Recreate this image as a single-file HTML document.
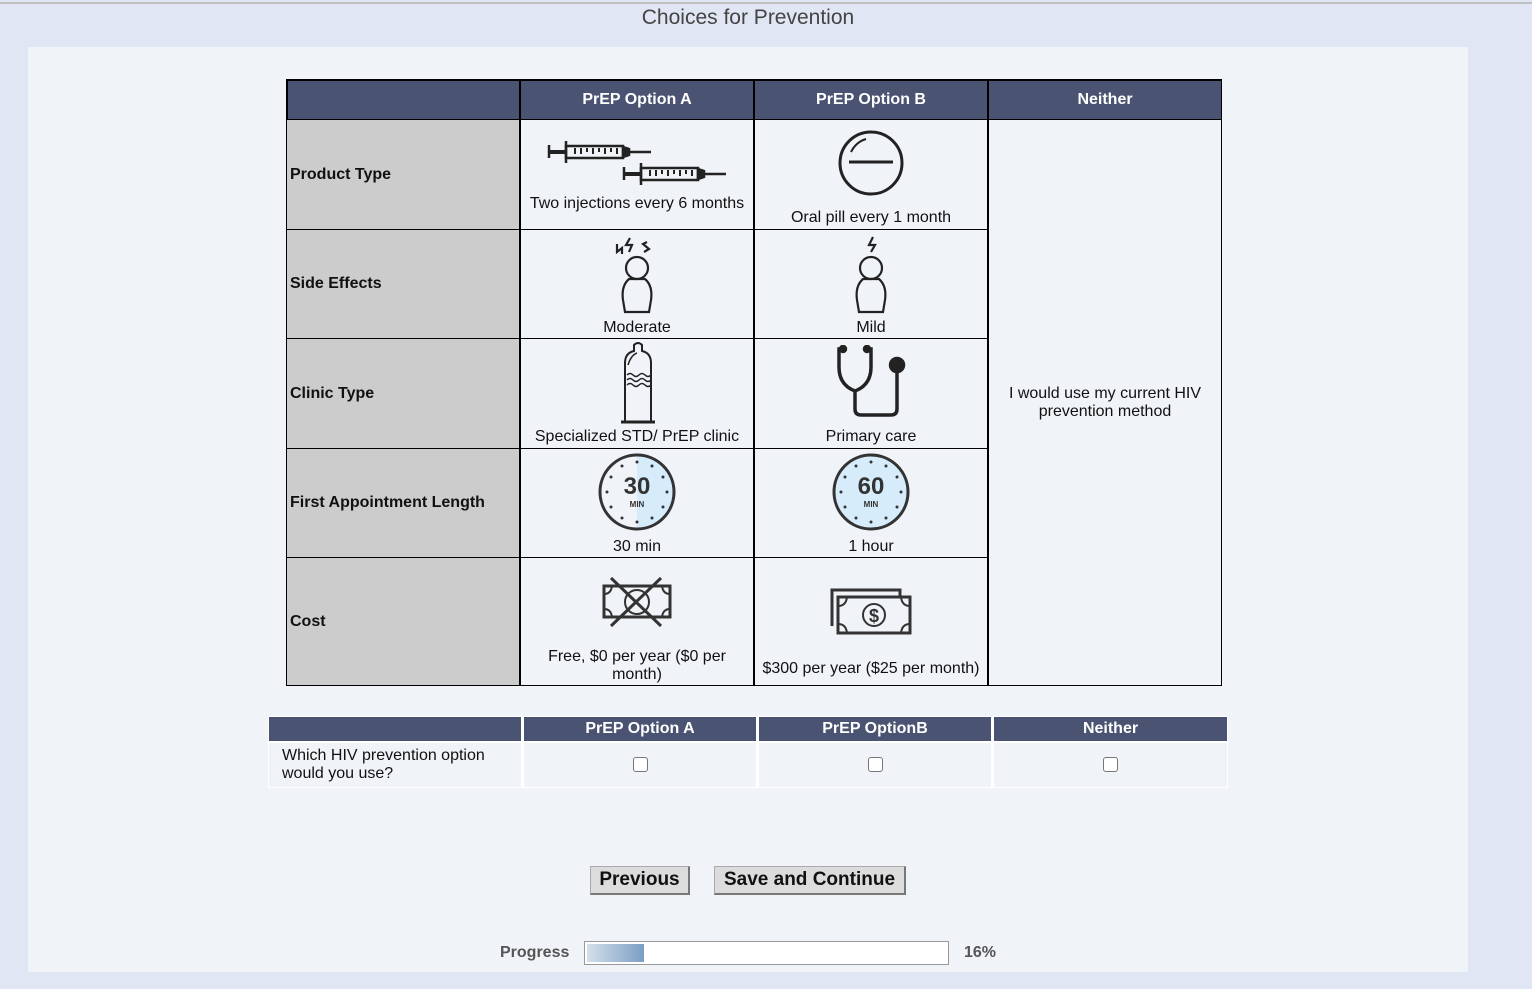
<!DOCTYPE html>
<html><head><meta charset="utf-8"><style>
*{margin:0;padding:0;box-sizing:border-box}
body{width:1532px;height:989px;background:#e0e6f4;font-family:"Liberation Sans",Arial,sans-serif;position:relative;overflow:hidden;color:#111}
.a{position:absolute}
.topline{left:0;top:2px;width:1532px;height:2px;background:#c0c0c0}
.title{left:0;width:1496px;top:6px;text-align:center;font-size:21px;color:#444}
.panel{left:28px;top:47px;width:1440px;height:925px;background:#f0f3f8}
.hd{background:#4a5372;color:#fff;font-weight:bold;font-size:16px;text-align:center}
.lbl{background:#cccccc;font-weight:bold;font-size:16px;display:flex;align-items:center;padding-left:3px}
.cell{background:#f0f3f8;text-align:center;font-size:16px}
.bk{background:#000}
.cap{position:absolute;left:0;right:0;text-align:center;font-size:16px;line-height:18px}
.btn{background:#dcdcdc;border:1px solid #aaa;border-right:2px solid #777;border-bottom:2px solid #777;font-weight:bold;font-size:19px;text-align:center;line-height:26px}
.cb{width:15px;height:15px;border:1.5px solid #777;border-radius:3px;background:#fff}
</style></head><body>
<div class="a topline"></div>
<div class="a title">Choices for Prevention</div>
<div class="a panel"></div>

<div class="a bk" style="left:286px;top:79px;width:936px;height:607px"></div>
<div class="a hd" style="left:288px;top:81px;width:231px;height:38px"></div>
<div class="a hd" style="left:521px;top:81px;width:232px;height:38px;line-height:38px">PrEP Option A</div>
<div class="a hd" style="left:755px;top:81px;width:232px;height:38px;line-height:38px">PrEP Option B</div>
<div class="a hd" style="left:989px;top:81px;width:232px;height:38px;line-height:38px">Neither</div>

<div class="a lbl" style="left:287px;top:120px;width:232px;height:109px">Product Type</div>
<div class="a lbl" style="left:287px;top:230px;width:232px;height:108px">Side Effects</div>
<div class="a lbl" style="left:287px;top:339px;width:232px;height:109px">Clinic Type</div>
<div class="a lbl" style="left:287px;top:449px;width:232px;height:108px">First Appointment Length</div>
<div class="a lbl" style="left:287px;top:558px;width:232px;height:127px">Cost</div>

<div class="a cell" style="left:989px;top:120px;width:232px;height:565px;display:flex;align-items:center;justify-content:center;line-height:18px">I would use my current HIV<br>prevention method</div>

<div class="a cell" style="left:521px;top:120px;width:232px;height:109px">
<svg class="a" style="left:24px;top:16px" width="185" height="54" viewBox="0 0 185 54" fill="none" stroke="#222" stroke-width="2.5">
<g><line x1="4" y1="9" x2="4" y2="22"/><line x1="4" y1="16" x2="20" y2="16" stroke-width="4"/><line x1="21" y1="5" x2="21" y2="27"/><rect x="21" y="10" width="57" height="12"/><path d="M78 11 L84 13 L84 19 L78 21Z" fill="#222"/><line x1="84" y1="16" x2="106" y2="16"/><path d="M30 12v6M36 12v6M42 12v4M48 12v6M54 12v4M60 12v6M66 12v4M72 12v6" stroke-width="2"/></g>
<g transform="translate(75,22)"><line x1="4" y1="9" x2="4" y2="22"/><line x1="4" y1="16" x2="20" y2="16" stroke-width="4"/><line x1="21" y1="5" x2="21" y2="27"/><rect x="21" y="10" width="57" height="12"/><path d="M78 11 L84 13 L84 19 L78 21Z" fill="#222"/><line x1="84" y1="16" x2="106" y2="16"/><path d="M30 12v6M36 12v6M42 12v4M48 12v6M54 12v4M60 12v6M66 12v4M72 12v6" stroke-width="2"/></g>
</svg>
<div class="cap" style="top:75px">Two injections every 6 months</div></div>
<div class="a cell" style="left:521px;top:230px;width:232px;height:108px">
<svg class="a" style="left:92px;top:4px" width="48" height="82" viewBox="0 0 48 82" fill="none" stroke="#222" stroke-width="2.2">
<path d="M4 10 L4 18 L9 14 L9 20 M17 4 L13 11 L19 11 L16 18 M34 8 L30 10 L36 15 L31 18"/>
<circle cx="24" cy="34" r="11"/><path d="M16 45 Q8 52 10 66 L12 78 L36 78 L38 66 Q40 52 32 45 Z"/></svg>
<div class="cap" style="top:89px">Moderate</div></div>
<div class="a cell" style="left:521px;top:339px;width:232px;height:109px">
<svg class="a" style="left:98px;top:2px" width="38" height="84" viewBox="0 0 38 84" fill="none" stroke="#222" stroke-width="2">
<path d="M6 80 L6 22 Q6 12 15 10 L15 4 Q19 0 23 4 L23 10 Q32 12 32 22 L32 80"/><line x1="2" y1="81" x2="36" y2="81" stroke-width="3"/>
<path d="M9 24 Q12 14 18 12" stroke-width="1.5"/>
<path d="M8 34q3-3 6 0t6 0t6 0t6 0M8 39q3-3 6 0t6 0t6 0t6 0M8 44q3-3 6 0t6 0t6 0t6 0" stroke-width="1.5"/></svg>
<div class="cap" style="top:89px">Specialized STD/ PrEP clinic</div></div>
<div class="a cell" style="left:521px;top:449px;width:232px;height:108px">
<svg class="a" style="left:76px;top:3px" width="80" height="80" viewBox="0 0 80 80">
<path d="M40 3 A37 37 0 0 1 40 77 Z" fill="#d6ecfa"/><circle cx="40" cy="40" r="37" fill="none" stroke="#333" stroke-width="3"/>
<g fill="#333"><circle cx="40" cy="10" r="1.5"/><circle cx="40" cy="70" r="1.5"/><circle cx="10" cy="40" r="1.5"/><circle cx="70" cy="40" r="1.5"/><circle cx="55" cy="14" r="1.5"/><circle cx="66" cy="25" r="1.5"/><circle cx="66" cy="55" r="1.5"/><circle cx="55" cy="66" r="1.5"/><circle cx="25" cy="66" r="1.5"/><circle cx="14" cy="55" r="1.5"/><circle cx="14" cy="25" r="1.5"/><circle cx="25" cy="14" r="1.5"/></g>
<text x="40" y="42" text-anchor="middle" font-family="Liberation Sans" font-weight="bold" font-size="24" fill="#333">30</text>
<text x="40" y="55" text-anchor="middle" font-family="Liberation Sans" font-weight="bold" font-size="8" fill="#333">MIN</text></svg>
<div class="cap" style="top:89px">30 min</div></div>
<div class="a cell" style="left:521px;top:558px;width:232px;height:127px">
<svg class="a" style="left:80px;top:18px" width="72" height="52" viewBox="0 0 72 52" fill="none" stroke="#333" stroke-width="3">
<rect x="3" y="10" width="66" height="31"/><circle cx="36" cy="26" r="12" stroke-width="2"/><path d="M3 18 Q10 18 11 10 M61 10 Q62 18 69 18 M3 33 Q10 33 11 41 M61 41 Q62 33 69 33" stroke-width="2"/>
<line x1="10" y1="2" x2="60" y2="50"/><line x1="60" y1="2" x2="10" y2="50"/></svg>
<div class="cap" style="top:90px">Free, $0 per year ($0 per<br>month)</div></div>

<div class="a cell" style="left:755px;top:120px;width:232px;height:109px">
<svg class="a" style="left:83px;top:10px" width="66" height="66" viewBox="0 0 66 66" fill="none" stroke="#222" stroke-width="3">
<circle cx="33" cy="33" r="31"/><line x1="11" y1="32" x2="55" y2="32"/><path d="M13 22 Q18 12 28 9" stroke-width="2"/></svg>
<div class="cap" style="top:89px">Oral pill every 1 month</div></div>
<div class="a cell" style="left:755px;top:230px;width:232px;height:108px">
<svg class="a" style="left:92px;top:4px" width="48" height="82" viewBox="0 0 48 82" fill="none" stroke="#222" stroke-width="2.2">
<path d="M26 3 L22 11 L28 11 L24 18"/>
<circle cx="24" cy="34" r="11"/><path d="M16 45 Q8 52 10 66 L12 78 L36 78 L38 66 Q40 52 32 45 Z"/></svg>
<div class="cap" style="top:89px">Mild</div></div>
<div class="a cell" style="left:755px;top:339px;width:232px;height:109px">
<svg class="a" style="left:80px;top:6px" width="76" height="76" viewBox="0 0 76 76" fill="none" stroke="#222" stroke-width="3.5">
<path d="M8 4 L4 4 L4 22 Q4 40 20 46 Q36 40 36 22 L36 4 L32 4"/><circle cx="8" cy="4" r="2.5" fill="#222"/><circle cx="32" cy="4" r="2.5" fill="#222"/>
<path d="M20 46 L20 64 Q20 70 26 70 L56 70 Q62 70 62 64 L62 22"/><circle cx="62" cy="20" r="6.5" fill="#222"/></svg>
<div class="cap" style="top:89px">Primary care</div></div>
<div class="a cell" style="left:755px;top:449px;width:232px;height:108px">
<svg class="a" style="left:76px;top:3px" width="80" height="80" viewBox="0 0 80 80">
<circle cx="40" cy="40" r="37" fill="#d6ecfa" stroke="#333" stroke-width="3"/>
<g fill="#333"><circle cx="40" cy="10" r="1.5"/><circle cx="40" cy="70" r="1.5"/><circle cx="10" cy="40" r="1.5"/><circle cx="70" cy="40" r="1.5"/><circle cx="55" cy="14" r="1.5"/><circle cx="66" cy="25" r="1.5"/><circle cx="66" cy="55" r="1.5"/><circle cx="55" cy="66" r="1.5"/><circle cx="25" cy="66" r="1.5"/><circle cx="14" cy="55" r="1.5"/><circle cx="14" cy="25" r="1.5"/><circle cx="25" cy="14" r="1.5"/></g>
<text x="40" y="42" text-anchor="middle" font-family="Liberation Sans" font-weight="bold" font-size="24" fill="#333">60</text>
<text x="40" y="55" text-anchor="middle" font-family="Liberation Sans" font-weight="bold" font-size="8" fill="#333">MIN</text></svg>
<div class="cap" style="top:89px">1 hour</div></div>
<div class="a cell" style="left:755px;top:558px;width:232px;height:127px">
<svg class="a" style="left:75px;top:30px" width="82" height="48" viewBox="0 0 82 48" fill="none" stroke="#333" stroke-width="3">
<path d="M2 38 L2 2 L70 2 L70 8"/><rect x="8" y="9" width="72" height="36" fill="#f0f3f8"/><circle cx="44" cy="27" r="11" stroke-width="2"/>
<path d="M8 18 Q16 18 17 9 M71 9 Q72 18 80 18 M8 36 Q16 36 17 45 M71 45 Q72 36 80 36" stroke-width="2"/>
<text x="44" y="34" text-anchor="middle" font-family="Liberation Sans" font-weight="bold" font-size="18" fill="#333" stroke="none">$</text></svg>
<div class="cap" style="top:102px">$300 per year ($25 per month)</div></div>

<div class="a" style="left:268px;top:716px;width:960px;height:72px;background:#fff"></div>
<div class="a hd" style="left:269px;top:717px;width:252px;height:24px"></div>
<div class="a hd" style="left:524px;top:717px;width:232px;height:24px;line-height:24px">PrEP Option A</div>
<div class="a hd" style="left:759px;top:717px;width:232px;height:24px;line-height:24px">PrEP OptionB</div>
<div class="a hd" style="left:994px;top:717px;width:233px;height:24px;line-height:24px">Neither</div>
<div class="a" style="left:269px;top:743px;width:252px;height:44px;background:#f0f3f8;font-size:16px;line-height:18px;padding:4px 0 0 13px">Which HIV prevention option<br>would you use?</div>
<div class="a" style="left:524px;top:743px;width:232px;height:44px;background:#f0f3f8"><div class="a cb" style="left:109px;top:14px"></div></div>
<div class="a" style="left:759px;top:743px;width:232px;height:44px;background:#f0f3f8"><div class="a cb" style="left:109px;top:14px"></div></div>
<div class="a" style="left:994px;top:743px;width:233px;height:44px;background:#f0f3f8"><div class="a cb" style="left:109px;top:14px"></div></div>

<div class="a btn" style="left:590px;top:866px;width:100px;height:29px">Previous</div>
<div class="a btn" style="left:714px;top:866px;width:192px;height:29px">Save and Continue</div>

<div class="a" style="left:500px;top:944px;font-size:16px;font-weight:bold;color:#555">Progress</div>
<div class="a" style="left:584px;top:941px;width:365px;height:24px;background:#fff;border:1px solid #999"></div>
<div class="a" style="left:587px;top:944px;width:57px;height:18px;background:linear-gradient(to right,#d3dfeb,#7c9ec4)"></div>
<div class="a" style="left:964px;top:944px;font-size:16px;font-weight:bold;color:#555">16%</div>
</body></html>
